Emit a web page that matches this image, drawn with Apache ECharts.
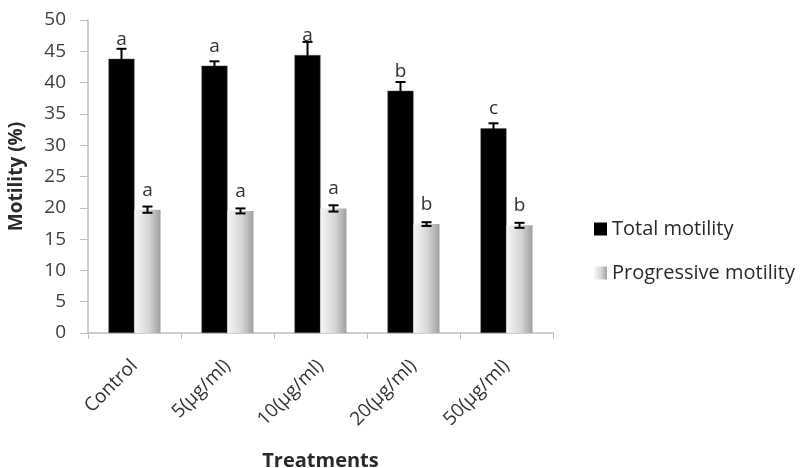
<!DOCTYPE html>
<html><head><meta charset="utf-8">
<script src="https://cdn.jsdelivr.net/npm/echarts@6/dist/echarts.min.js"></script>
<style>html,body{margin:0;padding:0;background:#fff}#c{width:800px;height:468px}</style>
</head><body><div id="c"></div>
<script>
const categories = ['Control', '5(μg/ml)', '10(μg/ml)', '20(μg/ml)', '50(μg/ml)'];
const totalMotility = [43.8, 42.7, 44.4, 38.7, 32.7];
const totalErr = [1.6, 0.7, 2.1, 1.4, 0.8];
const totalLetters = ['a', 'a', 'a', 'b', 'c'];
const progMotility = [19.7, 19.5, 19.9, 17.4, 17.2];
const progErr = [0.5, 0.4, 0.5, 0.3, 0.4];
const progLetters = ['a', 'a', 'a', 'b', 'b'];
const yTicks = [0, 5, 10, 15, 20, 25, 30, 35, 40, 45, 50];

const FONT = '"Open Sans", "Noto Sans", sans-serif';
const BW = 26;

function errSeries(name, vals, errs, offset) {
  return {
    type: 'custom', name: name + ' err', silent: true, z: 5,
    data: vals.map((v, i) => [i, v, errs[i]]),
    renderItem: function (params, api) {
      const i = api.value(0), v = api.value(1), e = api.value(2);
      const top = api.coord([i, v + e]);
      const bot = api.coord([i, v - e]);
      const x = top[0] + offset;
      const hw = 5;
      const style = { stroke: '#000', lineWidth: 2 };
      return { type: 'group', children: [
        { type: 'line', shape: { x1: x, y1: top[1], x2: x, y2: bot[1] }, style },
        { type: 'line', shape: { x1: x - hw, y1: top[1], x2: x + hw, y2: top[1] }, style },
        { type: 'line', shape: { x1: x - hw, y1: bot[1], x2: x + hw, y2: bot[1] }, style }
      ]};
    }
  };
}

const chart = echarts.init(document.getElementById('c'), null, { renderer: 'canvas' });
chart.setOption({
  animation: false,
  textStyle: { fontFamily: FONT },
  grid: { left: 88, right: 247, top: 20, bottom: 135, outerBoundsMode: 'none', containLabel: false },
  legend: {
    orient: 'vertical', left: 589, top: 214, itemGap: 24,
    itemWidth: 13, itemHeight: 13, icon: 'rect', itemStyle: { borderWidth: 0 },
    textStyle: { fontSize: 20, color: '#2a2a2a', fontFamily: FONT },
    data: ['Total motility', 'Progressive motility']
  },
  xAxis: {
    type: 'category', data: categories,
    name: 'Treatments', nameLocation: 'middle', nameGap: 118,
    nameTextStyle: { fontSize: 20, fontWeight: 'bold', color: '#2a2a2a', fontFamily: FONT },
    axisLine: { lineStyle: { color: '#bfbfbf', width: 1.5 } },
    axisTick: { show: true, alignWithLabel: false, length: 6, lineStyle: { color: '#bfbfbf' } },
    axisLabel: { rotate: 45, fontSize: 19, color: '#333', margin: 30, fontFamily: FONT }
  },
  yAxis: {
    type: 'value', min: 0, max: 50, interval: 5,
    name: 'Motility (%)', nameLocation: 'middle', nameGap: 62,
    nameTextStyle: { fontSize: 19, fontWeight: 'bold', color: '#2a2a2a', fontFamily: FONT },
    splitLine: { show: false },
    axisLine: { show: true, lineStyle: { color: '#bfbfbf', width: 1.5 } },
    axisTick: { show: true, length: 8, lineStyle: { color: '#bfbfbf' } },
    axisLabel: { fontSize: 19, color: '#404040', margin: 22, fontFamily: FONT,
      formatter: v => yTicks.includes(v) ? String(v) : '' }
  },
  series: [
    {
      name: 'Total motility', type: 'bar', data: totalMotility, barWidth: BW, barGap: '0%',
      itemStyle: { color: '#000', borderColor: '#555', borderWidth: 0.5 },
      label: { show: true, position: 'top', distance: 10, fontSize: 19, color: '#333', fontFamily: FONT,
        formatter: p => totalLetters[p.dataIndex] }
    },
    {
      name: 'Progressive motility', type: 'bar', data: progMotility, barWidth: BW, barGap: '0%',
      itemStyle: { color: new echarts.graphic.LinearGradient(0, 0, 1, 0, [
        { offset: 0, color: '#f6f6f6' }, { offset: 0.55, color: '#d6d6d6' }, { offset: 1, color: '#a0a0a0' }]) },
      label: { show: true, position: 'top', distance: 10, fontSize: 19, color: '#333', fontFamily: FONT,
        formatter: p => progLetters[p.dataIndex] }
    },
    errSeries('Total motility', totalMotility, totalErr, -BW / 2),
    errSeries('Progressive motility', progMotility, progErr, BW / 2)
  ]
});
</script></body></html>
